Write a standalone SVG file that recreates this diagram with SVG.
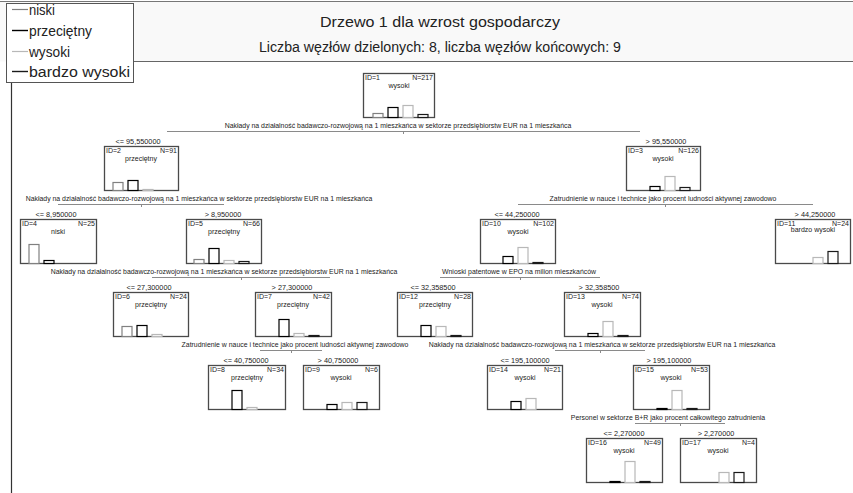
<svg xmlns="http://www.w3.org/2000/svg" width="853" height="493" viewBox="0 0 853 493">
<style>
text{font-family:"Liberation Sans",Arial,sans-serif;fill:#222}
.hd{font-size:14px;text-anchor:middle}
.lg{font-size:14px}
.t{font-size:7px}
.r{text-anchor:end}
.m{text-anchor:middle}
.sp{font-size:6.9px;text-anchor:middle}
.cd{font-size:7.3px;text-anchor:middle}
.box{fill:#fff;stroke:#4a4a4a;stroke-width:1.3}
.b0{fill:#fff;stroke:#808080;stroke-width:1.2}
.b1{fill:#fff;stroke:#000;stroke-width:1.2}
.b2{fill:#fff;stroke:#b8b8b8;stroke-width:1.2}
.b3{fill:#fff;stroke:#1a1a1a;stroke-width:1.2}
.c{stroke:#8a8a8a;stroke-width:1;fill:none}
</style>
<rect x="0" y="0" width="853" height="493" fill="#fff"/>
<g id="header">
<rect x="0" y="1.5" width="853" height="60" fill="#f9f9f9" stroke="none"/>
<line x1="0" y1="1.5" x2="853" y2="1.5" stroke="#777" stroke-width="1.2"/>
<line x1="134" y1="61.5" x2="853" y2="61.5" stroke="#666" stroke-width="1.2"/>
<text class="hd" x="440" y="27" textLength="240" lengthAdjust="spacingAndGlyphs">Drzewo 1 dla wzrost gospodarczy</text>
<text class="hd" x="440" y="52" textLength="362" lengthAdjust="spacingAndGlyphs">Liczba węzłów dzielonych: 8, liczba węzłów końcowych: 9</text>
</g>
<line x1="11.5" y1="82" x2="11.5" y2="493" stroke="#333" stroke-width="1.2"/>
<g id="legend">
<rect x="6.5" y="3.5" width="127" height="79" fill="#fff" stroke="#555" stroke-width="1"/>
<line x1="12" y1="9.5" x2="28" y2="9.5" stroke="#808080" stroke-width="1.2"/>
<text class="lg" x="29" y="14.5" textLength="26" lengthAdjust="spacingAndGlyphs">niski</text>
<line x1="12" y1="30.5" x2="28" y2="30.5" stroke="#000" stroke-width="1.4"/>
<text class="lg" x="29" y="35.5" textLength="63" lengthAdjust="spacingAndGlyphs">przeciętny</text>
<line x1="12" y1="51.5" x2="28" y2="51.5" stroke="#b8b8b8" stroke-width="1.2"/>
<text class="lg" x="29" y="56.5" textLength="41" lengthAdjust="spacingAndGlyphs">wysoki</text>
<line x1="12" y1="71.5" x2="28" y2="71.5" stroke="#1a1a1a" stroke-width="1.4"/>
<text class="lg" x="29" y="76.5" textLength="101" lengthAdjust="spacingAndGlyphs">bardzo wysoki</text>
</g>
<g id="connectors">
<line class="c" x1="167" y1="131.5" x2="640" y2="131.5"/>
<line class="c" x1="403.5" y1="131.5" x2="403.5" y2="134"/>
<line class="c" x1="58" y1="204.5" x2="224" y2="204.5"/>
<line class="c" x1="141.5" y1="204.5" x2="141.5" y2="207"/>
<line class="c" x1="518" y1="204.5" x2="813" y2="204.5"/>
<line class="c" x1="665.5" y1="204.5" x2="665.5" y2="207"/>
<line class="c" x1="152" y1="277.5" x2="330" y2="277.5"/>
<line class="c" x1="241.5" y1="277.5" x2="241.5" y2="280"/>
<line class="c" x1="440" y1="277.5" x2="600" y2="277.5"/>
<line class="c" x1="520.5" y1="277.5" x2="520.5" y2="280"/>
<line class="c" x1="260" y1="350.5" x2="322" y2="350.5"/>
<line class="c" x1="291.5" y1="350.5" x2="291.5" y2="353"/>
<line class="c" x1="555" y1="350.5" x2="645" y2="350.5"/>
<line class="c" x1="600.5" y1="350.5" x2="600.5" y2="353"/>
<line class="c" x1="635" y1="423.5" x2="725" y2="423.5"/>
<line class="c" x1="680.5" y1="423.5" x2="680.5" y2="426"/>
</g>
<g id="splits">
<text class="sp" x="398" y="127.5">Nakłady na działalność badawczo-rozwojową na 1 mieszkańca w sektorze przedsiębiorstw EUR na 1 mieszkańca</text>
<text class="cd" x="138" y="143.5">&lt;= 95,550000</text>
<text class="cd" x="666" y="143.5">&gt; 95,550000</text>
<text class="sp" x="199" y="200.5">Nakłady na działalność badawczo-rozwojową na 1 mieszkańca w sektorze przedsiębiorstw EUR na 1 mieszkańca</text>
<text class="cd" x="56" y="216.5">&lt;= 8,950000</text>
<text class="cd" x="223" y="216.5">&gt; 8,950000</text>
<text class="sp" x="663" y="200.5">Zatrudnienie w nauce i technice jako procent ludności aktywnej zawodowo</text>
<text class="cd" x="517" y="216.5">&lt;= 44,250000</text>
<text class="cd" x="815" y="216.5">&gt; 44,250000</text>
<text class="sp" x="224" y="273.5">Nakłady na działalność badawczo-rozwojową na 1 mieszkańca w sektorze przedsiębiorstw EUR na 1 mieszkańca</text>
<text class="cd" x="149" y="289.5">&lt;= 27,300000</text>
<text class="cd" x="292" y="289.5">&gt; 27,300000</text>
<text class="sp" x="519" y="273.5">Wnioski patentowe w EPO na milion mieszkańców</text>
<text class="cd" x="433" y="289.5">&lt;= 32,358500</text>
<text class="cd" x="599" y="289.5">&gt; 32,358500</text>
<text class="sp" x="295" y="346.5">Zatrudnienie w nauce i technice jako procent ludności aktywnej zawodowo</text>
<text class="cd" x="246" y="362.5">&lt;= 40,750000</text>
<text class="cd" x="338" y="362.5">&gt; 40,750000</text>
<text class="sp" x="602" y="346.5">Nakłady na działalność badawczo-rozwojową na 1 mieszkańca w sektorze przedsiębiorstw EUR na 1 mieszkańca</text>
<text class="cd" x="525" y="362.5">&lt;= 195,100000</text>
<text class="cd" x="669" y="362.5">&gt; 195,100000</text>
<text class="sp" x="668" y="419.5">Personel w sektorze B+R jako procent całkowitego zatrudnienia</text>
<text class="cd" x="624" y="435.5">&lt;= 2,270000</text>
<text class="cd" x="716" y="435.5">&gt; 2,270000</text>
</g>
<g id="node1" transform="translate(363,73)">
<rect class="box" x="0.5" y="0.5" width="71" height="44"/>
<text class="t" x="2" y="7">ID=1</text><text class="t r" x="70" y="7">N=217</text>
<text class="t m" x="36" y="15">wysoki</text>
<rect class="b0" x="10" y="40.5" width="10" height="4"/>
<rect class="b1" x="25" y="34.5" width="10" height="10"/>
<rect class="b2" x="40" y="32.5" width="10" height="12"/>
<rect class="b3" x="55" y="41.5" width="10" height="3"/>
</g>
<g id="node2" transform="translate(104,146)">
<rect class="box" x="0.5" y="0.5" width="74" height="44"/>
<text class="t" x="2" y="7">ID=2</text><text class="t r" x="73" y="7">N=91</text>
<text class="t m" x="37" y="15">przeciętny</text>
<rect class="b0" x="9" y="36.5" width="10" height="8"/>
<rect class="b1" x="24" y="34.5" width="10" height="10"/>
<rect class="b2" x="39" y="43.5" width="10" height="1"/>
</g>
<g id="node3" transform="translate(626,146)">
<rect class="box" x="0.5" y="0.5" width="74" height="44"/>
<text class="t" x="2" y="7">ID=3</text><text class="t r" x="73" y="7">N=126</text>
<text class="t m" x="37" y="15">wysoki</text>
<rect class="b1" x="24" y="40.5" width="10" height="4"/>
<rect class="b2" x="39" y="30.5" width="10" height="14"/>
<rect class="b3" x="54" y="41.5" width="10" height="3"/>
</g>
<g id="node4" transform="translate(20,219)">
<rect class="box" x="0.5" y="0.5" width="76" height="44"/>
<text class="t" x="2" y="7">ID=4</text><text class="t r" x="75" y="7">N=25</text>
<text class="t m" x="38" y="15">niski</text>
<rect class="b0" x="9" y="25.5" width="10" height="19"/>
<rect class="b1" x="24" y="41.5" width="10" height="3"/>
</g>
<g id="node5" transform="translate(186,219)">
<rect class="box" x="0.5" y="0.5" width="75" height="44"/>
<text class="t" x="2" y="7">ID=5</text><text class="t r" x="74" y="7">N=66</text>
<text class="t m" x="38" y="15">przeciętny</text>
<rect class="b0" x="8" y="40.5" width="10" height="4"/>
<rect class="b1" x="23" y="29.5" width="10" height="15"/>
<rect class="b2" x="38" y="41.5" width="10" height="3"/>
<rect class="b3" x="53" y="42.5" width="10" height="2"/>
</g>
<g id="node10" transform="translate(480,219)">
<rect class="box" x="0.5" y="0.5" width="75" height="44"/>
<text class="t" x="2" y="7">ID=10</text><text class="t r" x="74" y="7">N=102</text>
<text class="t m" x="38" y="15">wysoki</text>
<rect class="b1" x="23" y="37.5" width="10" height="7"/>
<rect class="b2" x="38" y="28.5" width="10" height="16"/>
<rect class="b3" x="53" y="43.5" width="10" height="1"/>
</g>
<g id="node11" transform="translate(775,219)">
<rect class="box" x="0.5" y="0.5" width="75" height="44"/>
<text class="t" x="2" y="7">ID=11</text><text class="t r" x="74" y="7">N=24</text>
<text class="t m" x="38" y="13">bardzo wysoki</text>
<rect class="b2" x="38" y="38.5" width="10" height="6"/>
<rect class="b3" x="53" y="32.5" width="10" height="12"/>
</g>
<g id="node6" transform="translate(113,292)">
<rect class="box" x="0.5" y="0.5" width="75" height="44"/>
<text class="t" x="2" y="7">ID=6</text><text class="t r" x="74" y="7">N=24</text>
<text class="t m" x="38" y="15">przeciętny</text>
<rect class="b0" x="9" y="34.5" width="10" height="10"/>
<rect class="b1" x="24" y="33.5" width="10" height="11"/>
<rect class="b2" x="39" y="42.5" width="10" height="2"/>
</g>
<g id="node7" transform="translate(255,292)">
<rect class="box" x="0.5" y="0.5" width="76" height="44"/>
<text class="t" x="2" y="7">ID=7</text><text class="t r" x="75" y="7">N=42</text>
<text class="t m" x="38" y="15">przeciętny</text>
<rect class="b1" x="24" y="27.5" width="10" height="17"/>
<rect class="b2" x="39" y="41.5" width="10" height="3"/>
<rect class="b3" x="54" y="43.5" width="10" height="1"/>
</g>
<g id="node12" transform="translate(397,292)">
<rect class="box" x="0.5" y="0.5" width="75" height="44"/>
<text class="t" x="2" y="7">ID=12</text><text class="t r" x="74" y="7">N=28</text>
<text class="t m" x="38" y="15">przeciętny</text>
<rect class="b1" x="24" y="33.5" width="10" height="11"/>
<rect class="b2" x="39" y="34.5" width="10" height="10"/>
<rect class="b3" x="54" y="43.5" width="10" height="1"/>
</g>
<g id="node13" transform="translate(564,292)">
<rect class="box" x="0.5" y="0.5" width="76" height="44"/>
<text class="t" x="2" y="7">ID=13</text><text class="t r" x="75" y="7">N=74</text>
<text class="t m" x="38" y="15">wysoki</text>
<rect class="b1" x="24" y="41.5" width="10" height="3"/>
<rect class="b2" x="39" y="29.5" width="10" height="15"/>
<rect class="b3" x="54" y="43.5" width="10" height="1"/>
</g>
<g id="node8" transform="translate(208,365)">
<rect class="box" x="0.5" y="0.5" width="77" height="44"/>
<text class="t" x="2" y="7">ID=8</text><text class="t r" x="76" y="7">N=34</text>
<text class="t m" x="39" y="15">przeciętny</text>
<rect class="b1" x="24" y="25.5" width="10" height="19"/>
<rect class="b2" x="39" y="42.5" width="10" height="2"/>
</g>
<g id="node9" transform="translate(303,365)">
<rect class="box" x="0.5" y="0.5" width="76" height="44"/>
<text class="t" x="2" y="7">ID=9</text><text class="t r" x="75" y="7">N=6</text>
<text class="t m" x="38" y="15">wysoki</text>
<rect class="b1" x="24" y="39.5" width="10" height="5"/>
<rect class="b2" x="39" y="37.5" width="10" height="7"/>
<rect class="b3" x="54" y="37.5" width="10" height="7"/>
</g>
<g id="node14" transform="translate(487,365)">
<rect class="box" x="0.5" y="0.5" width="75" height="44"/>
<text class="t" x="2" y="7">ID=14</text><text class="t r" x="74" y="7">N=21</text>
<text class="t m" x="38" y="15">wysoki</text>
<rect class="b1" x="24" y="36.5" width="10" height="8"/>
<rect class="b2" x="39" y="33.5" width="10" height="11"/>
</g>
<g id="node15" transform="translate(633,365)">
<rect class="box" x="0.5" y="0.5" width="76" height="44"/>
<text class="t" x="2" y="7">ID=15</text><text class="t r" x="75" y="7">N=53</text>
<text class="t m" x="38" y="15">wysoki</text>
<rect class="b1" x="24" y="43.5" width="10" height="1"/>
<rect class="b2" x="39" y="25.5" width="10" height="19"/>
<rect class="b3" x="54" y="43.5" width="10" height="1"/>
</g>
<g id="node16" transform="translate(586,438)">
<rect class="box" x="0.5" y="0.5" width="76" height="44"/>
<text class="t" x="2" y="7">ID=16</text><text class="t r" x="75" y="7">N=49</text>
<text class="t m" x="38" y="15">wysoki</text>
<rect class="b1" x="24" y="43.5" width="10" height="1"/>
<rect class="b2" x="39" y="23.5" width="10" height="21"/>
<rect class="b3" x="54" y="43.5" width="10" height="1"/>
</g>
<g id="node17" transform="translate(680,438)">
<rect class="box" x="0.5" y="0.5" width="76" height="44"/>
<text class="t" x="2" y="7">ID=17</text><text class="t r" x="75" y="7">N=4</text>
<text class="t m" x="38" y="15">wysoki</text>
<rect class="b2" x="39" y="34.5" width="10" height="10"/>
<rect class="b3" x="54" y="34.5" width="10" height="10"/>
</g>
</svg>
